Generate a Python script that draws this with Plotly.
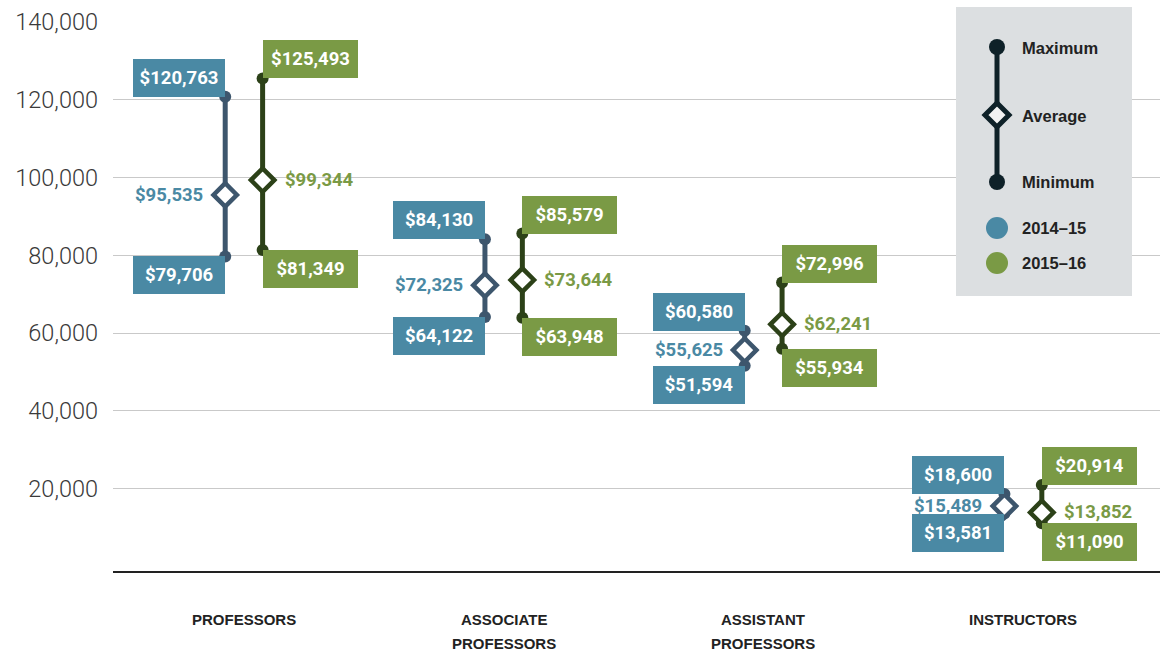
import plotly.graph_objects as go

# ---------------- data ----------------
categories_line1 = ["PROFESSORS", "ASSOCIATE", "ASSISTANT", "INSTRUCTORS"]
categories_line2 = ["", "PROFESSORS", "PROFESSORS", ""]

max_2014 = [120763, 84130, 60580, 18600]
avg_2014 = [95535, 72325, 55625, 15489]
min_2014 = [79706, 64122, 51594, 13581]

max_2015 = [125493, 85579, 72996, 20914]
avg_2015 = [99344, 73644, 62241, 13852]
min_2015 = [81349, 63948, 55934, 11090]

y_ticks = [20000, 40000, 60000, 80000, 100000, 120000, 140000]
legend_items = ["Maximum", "Average", "Minimum"]
series_names = ["2014–15", "2015–16"]

# ---------------- style ----------------
BLUE_BOX = "#4a89a4"
GREEN_BOX = "#7a9a45"
BLUE_LINE = "#3d566d"
GREEN_LINE = "#2c4118"
LEG_DARK = "#0e2128"
LEG_BG = "#dcdfe1"
VAL_FONT = "Roboto, Liberation Sans, sans-serif"
LAB_FONT = "Liberation Sans, Arial, sans-serif"

W, H = 1160, 654
L, R, T, B = 113, 0, 22, 83
PW, PH = W - L - R, H - T - B
OFF = 0.072

def px(X):
    return (X - L) / PW

def py(Y):
    return (H - B - Y) / PH

fig = go.Figure()

series = [
    (max_2014, avg_2014, min_2014, -OFF, BLUE_LINE, BLUE_BOX, "right"),
    (max_2015, avg_2015, min_2015, OFF, GREEN_LINE, GREEN_BOX, "left"),
]

box_annotations = []
avg_annotations = []
for mx, av, mn, off, lc, bc, side in series:
    xs, ys = [], []
    for i in range(len(mx)):
        xs += [i + off, i + off, None]
        ys += [mn[i], mx[i], None]
    fig.add_trace(go.Scatter(
        x=xs, y=ys, mode="lines+markers",
        line=dict(color=lc, width=5),
        marker=dict(color=lc, size=12),
        hoverinfo="skip", showlegend=False, cliponaxis=False))
    fig.add_trace(go.Scatter(
        x=[i + off for i in range(len(av))], y=av, mode="markers",
        marker=dict(symbol="diamond", size=18, color="white",
                    line=dict(color=lc, width=4.5)),
        hoverinfo="skip", showlegend=False, cliponaxis=False))
    bw = 80 if side == "right" else 83
    for i in range(len(mx)):
        x = i + off
        for v, ya in ((mx[i], "bottom"), (mn[i], "top")):
            box_annotations.append(dict(
                x=x, y=v, xref="x", yref="y", text=f"${v:,}",
                showarrow=False, xanchor=side, yanchor=ya,
                width=bw, height=26, borderpad=6, borderwidth=0,
                bgcolor=bc, align="center", valign="middle",
                font=dict(family=VAL_FONT, size=18.5, color="white", weight="bold")))
        avg_annotations.append(dict(
            x=x, y=av[i], xref="x", yref="y", text=f"${av[i]:,}",
            showarrow=False, xanchor=side,
            xshift=-20 if side == "right" else 20,
            yanchor="middle",
            font=dict(family=VAL_FONT, size=18.5, color=bc, weight="bold")))

annotations = box_annotations + avg_annotations

# category labels
for i, (l1, l2) in enumerate(zip(categories_line1, categories_line2)):
    annotations.append(dict(x=i, y=py(619), xref="x", yref="paper", text=l1,
                            showarrow=False, xanchor="center", yanchor="middle",
                            font=dict(family=LAB_FONT, size=15, color="#222", weight="bold")))
    if l2:
        annotations.append(dict(x=i, y=py(643), xref="x", yref="paper", text=l2,
                                showarrow=False, xanchor="center", yanchor="middle",
                                font=dict(family=LAB_FONT, size=15, color="#222", weight="bold")))

# legend box
shapes = [dict(type="rect", xref="paper", yref="paper",
               x0=px(956), x1=px(1132), y0=py(296), y1=py(7),
               fillcolor=LEG_BG, line=dict(width=0), layer="above")]
lx = 997
shapes.append(dict(type="line", xref="paper", yref="paper",
                   x0=px(lx), x1=px(lx), y0=py(182), y1=py(47),
                   line=dict(color=LEG_DARK, width=5), layer="above"))
for cy in (47, 182):
    r = 8
    shapes.append(dict(type="circle", xref="paper", yref="paper",
                       x0=px(lx - r), x1=px(lx + r), y0=py(cy + r), y1=py(cy - r),
                       fillcolor=LEG_DARK, line=dict(width=0), layer="above"))
d = 12
cy = 115
path = (f"M {px(lx)},{py(cy - d)} L {px(lx + d)},{py(cy)} "
        f"L {px(lx)},{py(cy + d)} L {px(lx - d)},{py(cy)} Z")
shapes.append(dict(type="path", xref="paper", yref="paper", path=path,
                   fillcolor="#f2f2f2", line=dict(color=LEG_DARK, width=5), layer="above"))
for cyy, col in ((228, BLUE_BOX), (263, GREEN_BOX)):
    r = 11
    shapes.append(dict(type="circle", xref="paper", yref="paper",
                       x0=px(lx - r), x1=px(lx + r), y0=py(cyy + r), y1=py(cyy - r),
                       fillcolor=col, line=dict(width=0), layer="above"))
for txt, yy in zip(legend_items + series_names, (48, 116, 182, 228, 263)):
    annotations.append(dict(x=px(1020), y=py(yy), xref="paper", yref="paper",
                            text=txt, showarrow=False, xanchor="left", yanchor="middle",
                            font=dict(family=LAB_FONT, size=16.5, color="#222", weight="bold")))

fig.update_layout(
    width=W, height=H,
    margin=dict(l=L, r=R, t=T, b=B),
    paper_bgcolor="white", plot_bgcolor="white",
    showlegend=False,
    xaxis=dict(range=[-0.504, 3.527], showgrid=False, zeroline=False,
               showticklabels=False, showline=True, linecolor="#222", linewidth=1.5,
               fixedrange=True),
    yaxis=dict(range=[-1200, 140000], tickvals=y_ticks,
               ticktext=[f"{v:,}" for v in y_ticks],
               showgrid=True, gridcolor="#c9c9c9", gridwidth=1,
               zeroline=False, showline=False, ticks="",
               ticklabelstandoff=14,
               tickfont=dict(family="Roboto, Liberation Sans, sans-serif", size=23.5,
                             color="#3a3a3a", weight=300),
               fixedrange=True),
    annotations=annotations,
    shapes=shapes,
)

fig.write_html("out.html", config={"displayModeBar": False},
               post_script="document.body.style.margin='0';")
